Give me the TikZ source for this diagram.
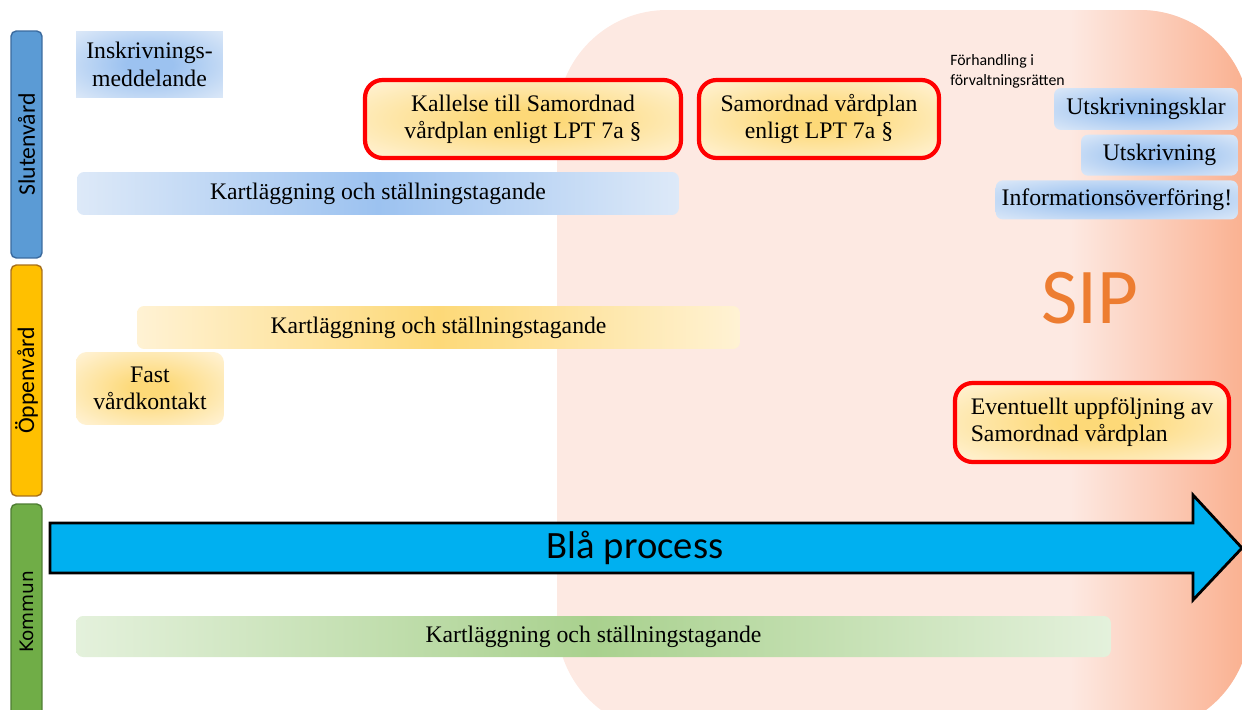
\documentclass[tikz,border=0pt]{standalone}
\usepackage{fontspec}
\setmainfont{Liberation Serif}
\setsansfont{Carlito}
\newfontfamily\kommunfont{DejaVu Sans}
\usetikzlibrary{positioning}
\definecolor{sipback}{HTML}{FDE9E2}
\definecolor{sipedge}{HTML}{FAAF8E}
\definecolor{siporange}{HTML}{ED7D31}
\definecolor{slutenfill}{HTML}{5B9BD5}
\definecolor{slutendraw}{HTML}{3A6A9E}
\definecolor{oppenfill}{HTML}{FFC000}
\definecolor{oppendraw}{HTML}{A8701A}
\definecolor{kommunfill}{HTML}{70AD47}
\definecolor{kommundraw}{HTML}{4E7D32}
\definecolor{bluemid}{HTML}{9CC2F0}
\definecolor{bluelight}{HTML}{DDE9F8}
\definecolor{yellowmid}{HTML}{FDD978}
\definecolor{yellowlight}{HTML}{FFF2D4}
\definecolor{greenmid}{HTML}{A9D18E}
\definecolor{greenlight}{HTML}{E4F1DC}
\definecolor{processblue}{HTML}{00B0F0}
\pgfdeclareradialshading{blueglow}{\pgfpoint{0bp}{0bp}}{color(0bp)=(bluemid); color(8bp)=(bluemid); color(36bp)=(bluelight); color(50bp)=(bluelight)}
\pgfdeclareradialshading{yellowglow}{\pgfpoint{0bp}{0bp}}{color(0bp)=(yellowmid); color(6bp)=(yellowmid); color(34bp)=(yellowlight); color(50bp)=(yellowlight)}

\begin{document}
\begin{tikzpicture}[x=0.02cm, y=-0.02cm, font=\fontsize{13.5}{15.5}\selectfont,
  lane/.style={draw, line width=0.8pt, rounded corners=3pt, rotate=90, minimum height=0.62cm, inner sep=0pt, font=\sffamily\fontsize{13.5}{15}\selectfont},
  bluebox/.style={shade, shading=blueglow, rounded corners=4pt, align=center},
  yellowbox/.style={shade, shading=yellowglow, rounded corners=6pt, align=center},
  redbox/.style={yellowbox, draw=red, line width=2.4pt, rounded corners=10pt, minimum height=1.56cm},
  bar/.style={rounded corners=4pt, minimum height=0.86cm}]
  \clip (0,0) rectangle (1242,710);

  % SIP background
  \begin{scope}
    \clip[rounded corners=2.2cm] (557,10) rectangle (1250,732);
    \fill[sipback] (557,0) rectangle (1250,740);
    \shade[left color=sipback, right color=sipedge] (1070,0) rectangle (1250,740);
  \end{scope}
  \node[font=\sffamily\fontsize{45}{50}\selectfont, text=siporange] (sip) at (1090,298) {SIP};

  % lanes
  \node[lane, fill=slutenfill, draw=slutendraw, minimum width=4.54cm] (sluten) at (26.5,144.5) {Slutenvård};
  \node[lane, fill=oppenfill, draw=oppendraw, minimum width=4.62cm] (oppen) at (26.5,380.5) {Öppenvård};
  \node[lane, fill=kommunfill, draw=kommundraw, minimum width=4.32cm, font=\kommunfont\fontsize{10.5}{12}\selectfont] (kommun) at (26.5,612) {Kommun};

  % slutenvård
  \node[bluebox, rounded corners=0pt, minimum width=2.94cm, minimum height=1.34cm] (inskrivning) at (149.5,64.5) {Inskrivnings-\\meddelande};
  \node[redbox, minimum width=6.32cm] (kallelse) at (523,119) {Kallelse till Samordnad\\vårdplan enligt LPT 7a §};
  \node[redbox, minimum width=4.8cm] (vardplan) at (819,119) {Samordnad vårdplan\\enligt LPT 7a §};
  \node[bar, left color=bluelight, right color=bluelight, middle color=bluemid, minimum width=12.04cm] (kartsluten) at (378,193.5) {Kartläggning och ställningstagande};
  \node[anchor=north west, align=left, inner sep=0pt, font=\sffamily\fontsize{9}{11.3}\selectfont] (forhandling) at (950,54) {Förhandling i\\förvaltningsrätten};
  \node[bluebox, minimum width=3.68cm, minimum height=0.84cm] (utskrivningsklar) at (1146,109) {Utskrivningsklar};
  \node[bluebox, below=0.08cm of utskrivningsklar.south east, anchor=north east, minimum width=3.14cm, minimum height=0.82cm] (utskrivning) {Utskrivning};
  \node[bluebox, below=0.08cm of utskrivning.south east, anchor=north east, minimum width=4.72cm, minimum height=0.78cm] (information) {Informationsöverföring!};

  % öppenvård
  \node[bar, left color=yellowlight, right color=yellowlight, middle color=yellowmid, minimum width=12.06cm] (kartoppen) at (438.5,327.5) {Kartläggning och ställningstagande};
  \node[yellowbox, minimum width=2.96cm, minimum height=1.46cm] (fast) at (150,388.5) {Fast\\vårdkontakt};
  \node[redbox, align=left, minimum width=5.48cm, minimum height=1.58cm] (uppfoljning) at (1092,422.5) {Eventuellt uppföljning av\\Samordnad vårdplan};

  % kommun
  \draw[line width=1.6pt, fill=processblue] (50,523) -- (1193,523) -- (1193,495) -- (1242,548) -- (1193,600) -- (1193,573) -- (50,573) -- cycle;
  \node[font=\sffamily\fontsize{22}{24}\selectfont] (process) at (635,548) {Blå process};
  \node[bar, left color=greenlight, right color=greenlight, middle color=greenmid, minimum width=20.7cm, minimum height=0.82cm] (kartkommun) at (593.5,636.5) {Kartläggning och ställningstagande};
\end{tikzpicture}
\end{document}
